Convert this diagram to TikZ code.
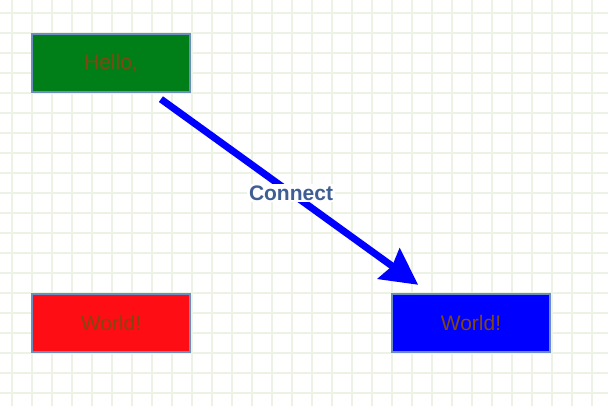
\documentclass[tikz,border=0pt]{standalone}
\usepackage{fontspec}
\setmainfont{Liberation Sans}
\usetikzlibrary{arrows.meta}
\definecolor{gridc}{RGB}{236,242,228}
\definecolor{bordc}{RGB}{108,142,191}
\definecolor{txtc}{RGB}{128,72,16}
\definecolor{gfill}{RGB}{0,127,24}
\definecolor{rfill}{RGB}{255,13,21}
\definecolor{bfill}{RGB}{0,0,255}
\definecolor{lblc}{RGB}{63,94,148}
\tikzset{
  box/.style={draw=bordc, line width=2pt, minimum width=158pt, minimum height=58pt,
    inner sep=0pt, text=txtc, font=\fontsize{21}{24}\selectfont},
  conn/.style={draw=bfill, line width=7pt, -{Stealth[length=36pt,width=37pt,inset=4pt]},
    shorten <=10.5pt, shorten >=14pt},
  lbl/.style={fill=white, text=lblc, inner sep=2pt, font=\fontsize{21}{24}\selectfont\bfseries}
}
\begin{document}
\begin{tikzpicture}[x=1pt,y=1pt]
\useasboundingbox (0,0) rectangle (608,406);
\fill[white] (0,0) rectangle (608,406);
\foreach \i in {0,...,29} {\draw[gridc, line width=2pt] (11.7+20*\i,0) -- (11.7+20*\i,406);}
\foreach \j in {0,...,19} {\draw[gridc, line width=2pt] (0,392.7-20*\j) -- (608,392.7-20*\j);}
\node[box, fill=gfill] (hello) at (111,343) {Hello,};
\node[box, fill=rfill] (world1) at (111,83) {World!};
\node[box, fill=bfill] (world2) at (471,83) {World!};
\draw[conn] (hello) -- (world2);
\path (hello.center) -- node[lbl] (clabel) {Connect} (world2.center);
\end{tikzpicture}
\end{document}
